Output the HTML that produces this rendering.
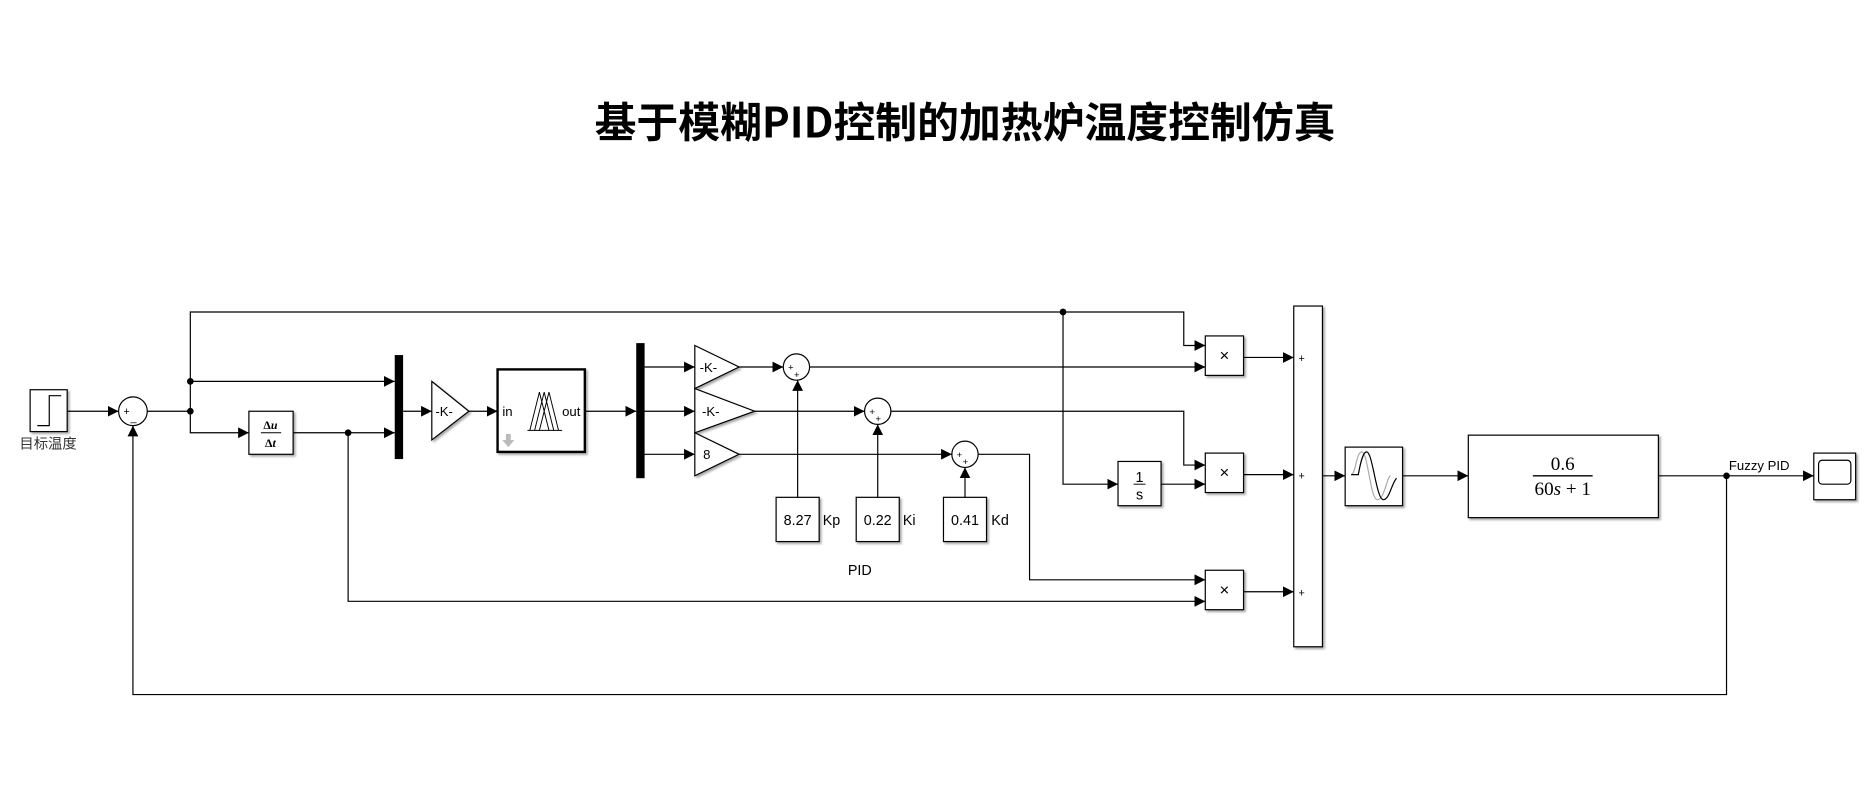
<!DOCTYPE html>
<html><head><meta charset="utf-8"><style>
html,body{margin:0;padding:0;background:#fff;width:1875px;height:795px;overflow:hidden}
svg{display:block}
text{font-family:"Liberation Sans","Noto Sans CJK SC",sans-serif;fill:#000}
</style></head><body>
<svg width="1875" height="795" viewBox="0 0 1568 665" xmlns="http://www.w3.org/2000/svg">
<defs>
<marker id="a" markerUnits="userSpaceOnUse" markerWidth="10" markerHeight="10" refX="9" refY="5" orient="auto"><path d="M0,0.5 L9,5 L0,9.5 Z" fill="#000"/></marker>
<filter id="sh" x="-10%" y="-10%" width="130%" height="130%"><feDropShadow dx="1.5" dy="1.5" stdDeviation="0.8" flood-color="#000" flood-opacity="0.35"/></filter>
</defs>
<text x="807" y="115" text-anchor="middle" font-size="35" font-weight="bold" style="font-family:'Noto Sans CJK SC','Liberation Sans',sans-serif">基于模糊PID控制的加热炉温度控制仿真</text>

<g fill="none" stroke="#000" stroke-width="1">
<path d="M56,344 H99" marker-end="url(#a)"/>
<path d="M123,344 H159 V261 H990 V289 H1008" marker-end="url(#a)"/>
<path d="M159,319 H330" marker-end="url(#a)"/>
<path d="M159,344 V362 H208" marker-end="url(#a)"/>
<path d="M245,362 H330" marker-end="url(#a)"/>
<path d="M291,362 V503 H1008" marker-end="url(#a)"/>
<path d="M337,344 H361" marker-end="url(#a)"/>
<path d="M392,344 H416" marker-end="url(#a)"/>
<path d="M489,344 H532" marker-end="url(#a)"/>
<path d="M539,307 H581" marker-end="url(#a)"/>
<path d="M539,344 H581" marker-end="url(#a)"/>
<path d="M539,380 H581" marker-end="url(#a)"/>
<path d="M618,307 H655" marker-end="url(#a)"/>
<path d="M631,344 H723" marker-end="url(#a)"/>
<path d="M618,380 H796" marker-end="url(#a)"/>
<path d="M667,416 V318" marker-end="url(#a)"/>
<path d="M734,416 V355" marker-end="url(#a)"/>
<path d="M807,416 V391" marker-end="url(#a)"/>
<path d="M677,307 H1008" marker-end="url(#a)"/>
<path d="M745,344 H990 V389 H1008" marker-end="url(#a)"/>
<path d="M818,380 H861 V485 H1008" marker-end="url(#a)"/>
<path d="M889,261 V405 H935" marker-end="url(#a)"/>
<path d="M971,405 H1008" marker-end="url(#a)"/>
<path d="M1040,299 H1082" marker-end="url(#a)"/>
<path d="M1040,397 H1082" marker-end="url(#a)"/>
<path d="M1040,495 H1082" marker-end="url(#a)"/>
<path d="M1106,398 H1125" marker-end="url(#a)"/>
<path d="M1173,398 H1228" marker-end="url(#a)"/>
<path d="M1387,398 H1517" marker-end="url(#a)"/>
<path d="M1444,398 V581 H111 V356" marker-end="url(#a)"/>
</g>
<g fill="#000">
<circle cx="159" cy="319" r="2.8"/><circle cx="159" cy="344" r="2.8"/>
<circle cx="291" cy="362" r="2.8"/><circle cx="889" cy="261" r="2.8"/>
<circle cx="1444" cy="398" r="2.8"/>
</g>

<g fill="#fff" stroke="#000" stroke-width="1" filter="url(#sh)">
<rect x="25" y="326" width="31" height="35"/>
<rect x="208" y="344" width="37" height="36"/>
<polygon points="361,319 392,344 361,368"/>
<rect x="416" y="309" width="73" height="69" stroke-width="2"/>
<polygon points="581,289 618,307 581,325"/>
<polygon points="581,325 631,344 581,362"/>
<polygon points="581,362 618,380 581,398"/>
<rect x="649" y="416" width="36" height="37"/>
<rect x="716" y="416" width="36" height="37"/>
<rect x="789" y="416" width="36" height="37"/>
<rect x="935" y="386" width="36" height="37"/>
<rect x="1008" y="281" width="32" height="33"/>
<rect x="1008" y="379" width="32" height="33"/>
<rect x="1008" y="477" width="32" height="33"/>
<rect x="1082" y="256" width="24" height="285"/>
<rect x="1125" y="374" width="48" height="49"/>
<rect x="1228" y="364" width="159" height="69"/>
<rect x="1517" y="379" width="35" height="39"/>
</g>
<g fill="#fff" stroke="#000">
<circle cx="111" cy="344" r="12"/>
<circle cx="666" cy="307" r="11"/>
<circle cx="734" cy="344" r="11"/>
<circle cx="807" cy="380" r="11"/>
</g>
<rect x="330" y="297" width="7" height="87" fill="#000"/>
<rect x="532" y="287" width="7" height="113" fill="#000"/>

<path d="M31,356 H41 V331 H51" fill="none" stroke="#000"/>
<g fill="none" stroke="#000" stroke-width="0.8">
<path d="M447,360 L455,328 L463,360 M451,360 L459,328 L467,360 M443,360 L451,328 L459,360 M441,360 H470"/>
</g>
<path d="M423,363 h4 v5 h3 l-5,6 l-5,-6 h3 z" fill="#bbb"/>
<path d="M1130,397 C1134,397 1134,378 1139,378 C1144,378 1146,418 1152,418 C1158,418 1160,398 1163,398" fill="none" stroke="#aaa"/>
<path d="M1130,397 H1136 C1138,386 1140,378 1143,378 C1148,378 1151,418 1157,418 C1162,418 1164,404 1168,400" fill="none" stroke="#000"/>
<rect x="1521" y="385" width="27" height="20" rx="3" fill="#fff" stroke="#000"/>
<line x1="1282" y1="398" x2="1332" y2="398" stroke="#000" stroke-width="1.2"/>

<text x="40" y="375" font-size="12" text-anchor="middle" style="font-family:'Noto Sans CJK SC',sans-serif;fill:#333">目标温度</text>
<text x="103" y="347" font-size="9">+</text><text x="109" y="352" font-size="9">_</text>
<text x="226" y="359" font-size="10" text-anchor="middle" font-weight="bold" style="font-family:'Liberation Serif',serif">Δ<tspan font-style="italic">u</tspan></text>
<line x1="218" y1="362" x2="235" y2="362" stroke="#000" stroke-width="0.8"/>
<text x="226" y="374" font-size="10" text-anchor="middle" font-weight="bold" style="font-family:'Liberation Serif',serif">Δ<tspan font-style="italic">t</tspan></text>
<text x="364" y="348" font-size="11">-K-</text>
<text x="420" y="348" font-size="11">in</text>
<text x="470" y="348" font-size="11">out</text>
<text x="585" y="311" font-size="11">-K-</text>
<text x="587" y="348" font-size="11">-K-</text>
<text x="588" y="384" font-size="11">8</text>
<text x="659" y="310" font-size="8">+</text><text x="664" y="316" font-size="8">+</text>
<text x="727" y="347" font-size="8">+</text><text x="732" y="353" font-size="8">+</text>
<text x="800" y="383" font-size="8">+</text><text x="805" y="389" font-size="8">+</text>
<text x="667" y="439" font-size="12" text-anchor="middle">8.27</text>
<text x="688" y="439" font-size="12">Kp</text>
<text x="734" y="439" font-size="12" text-anchor="middle">0.22</text>
<text x="755" y="439" font-size="12">Ki</text>
<text x="807" y="439" font-size="12" text-anchor="middle">0.41</text>
<text x="829" y="439" font-size="12">Kd</text>
<text x="719" y="481" font-size="12" text-anchor="middle">PID</text>
<text x="953" y="403" font-size="12" text-anchor="middle">1</text>
<line x1="948" y1="405" x2="958" y2="405" stroke="#000" stroke-width="0.8"/>
<text x="953" y="418" font-size="12" text-anchor="middle">s</text>
<text x="1024" y="302" font-size="14" text-anchor="middle">×</text>
<text x="1024" y="400" font-size="14" text-anchor="middle">×</text>
<text x="1024" y="498" font-size="14" text-anchor="middle">×</text>
<text x="1086" y="303" font-size="9">+</text>
<text x="1086" y="401" font-size="9">+</text>
<text x="1086" y="499" font-size="9">+</text>
<text x="1307" y="393" font-size="16" text-anchor="middle" style="font-family:'Liberation Serif',serif">0.6</text>
<text x="1307" y="414" font-size="16" text-anchor="middle" style="font-family:'Liberation Serif',serif">60<tspan font-style="italic">s</tspan> + 1</text>
<text x="1446" y="393" font-size="11">Fuzzy PID</text>
</svg>
</body></html>
